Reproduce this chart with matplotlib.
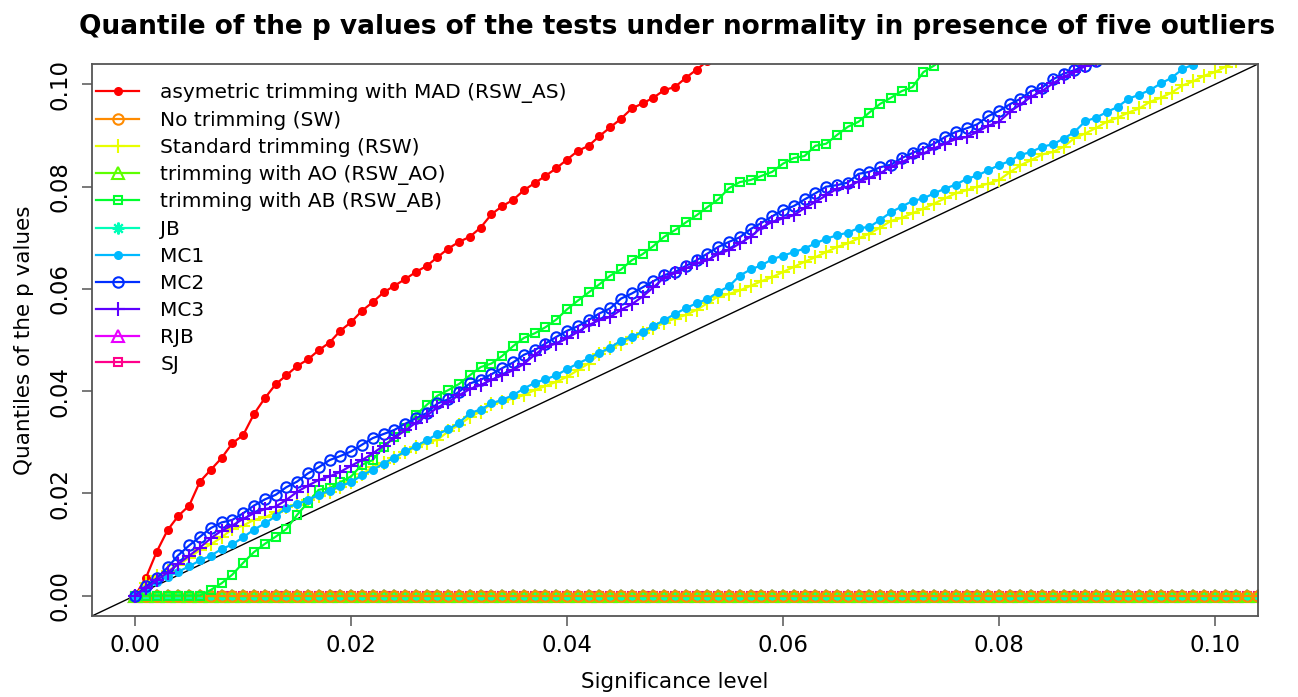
import numpy as np
import matplotlib
matplotlib.use("Agg")
import matplotlib.pyplot as plt

plt.rcParams['font.family'] = ['DejaVu Sans']

# significance levels (grid of the simulation)
sig_level = np.round(np.arange(105) * 0.001, 3)

rsw_as = [0.0000, 0.0035, 0.0086, 0.0128, 0.0156, 0.0176, 0.0223, 0.0246, 0.0269, 0.0298,
          0.0314, 0.0355, 0.0386, 0.0413, 0.0431, 0.0449, 0.0462, 0.0480, 0.0495, 0.0518,
          0.0535, 0.0557, 0.0574, 0.0593, 0.0606, 0.0619, 0.0633, 0.0645, 0.0662, 0.0679,
          0.0692, 0.0702, 0.0720, 0.0746, 0.0762, 0.0774, 0.0793, 0.0807, 0.0821, 0.0836,
          0.0853, 0.0870, 0.0880, 0.0899, 0.0916, 0.0933, 0.0953, 0.0963, 0.0974, 0.0989,
          0.0995, 0.1013, 0.1029, 0.1046, 0.1062, 0.1075]

sw = [0.0] * 105

rsw = [0.0000, 0.0024, 0.0038, 0.0048, 0.0060, 0.0074, 0.0089, 0.0100, 0.0114, 0.0130,
       0.0137, 0.0148, 0.0153, 0.0163, 0.0174, 0.0178, 0.0187, 0.0195, 0.0203, 0.0213,
       0.0223, 0.0238, 0.0251, 0.0260, 0.0269, 0.0280, 0.0290, 0.0299, 0.0305, 0.0321,
       0.0334, 0.0349, 0.0360, 0.0375, 0.0379, 0.0386, 0.0392, 0.0402, 0.0410, 0.0418,
       0.0428, 0.0441, 0.0454, 0.0473, 0.0484, 0.0493, 0.0505, 0.0513, 0.0523, 0.0534,
       0.0542, 0.0549, 0.0559, 0.0572, 0.0585, 0.0590, 0.0597, 0.0606, 0.0615, 0.0623,
       0.0633, 0.0643, 0.0653, 0.0662, 0.0672, 0.0682, 0.0689, 0.0699, 0.0708, 0.0720,
       0.0733, 0.0739, 0.0748, 0.0757, 0.0767, 0.0777, 0.0787, 0.0793, 0.0800, 0.0806,
       0.0813, 0.0828, 0.0842, 0.0852, 0.0863, 0.0868, 0.0878, 0.0895, 0.0904, 0.0915,
       0.0927, 0.0935, 0.0945, 0.0953, 0.0966, 0.0974, 0.0984, 0.0998, 0.1006, 0.1017,
       0.1024, 0.1035, 0.1046, 0.1058]

rsw_ao = [0.0] * 105

rsw_ab = [0.0000, 0.0000, 0.0000, 0.0000, 0.0000, 0.0000, 0.0000, 0.0011, 0.0024, 0.0041,
          0.0064, 0.0085, 0.0101, 0.0115, 0.0130, 0.0158, 0.0182, 0.0207, 0.0210, 0.0222,
          0.0233, 0.0256, 0.0265, 0.0291, 0.0310, 0.0327, 0.0353, 0.0373, 0.0391, 0.0402,
          0.0414, 0.0431, 0.0447, 0.0454, 0.0469, 0.0488, 0.0504, 0.0513, 0.0525, 0.0540,
          0.0560, 0.0577, 0.0593, 0.0609, 0.0626, 0.0638, 0.0656, 0.0668, 0.0684, 0.0702,
          0.0715, 0.0730, 0.0744, 0.0760, 0.0775, 0.0797, 0.0809, 0.0813, 0.0821, 0.0829,
          0.0845, 0.0856, 0.0860, 0.0880, 0.0884, 0.0901, 0.0917, 0.0927, 0.0945, 0.0962,
          0.0974, 0.0987, 0.0995, 0.1024, 0.1037, 0.1052, 0.1066]

jb = [0.0] * 105

mc1 = [0.0000, 0.0013, 0.0026, 0.0037, 0.0047, 0.0057, 0.0069, 0.0078, 0.0091, 0.0100,
       0.0114, 0.0129, 0.0141, 0.0155, 0.0172, 0.0179, 0.0187, 0.0197, 0.0205, 0.0214,
       0.0222, 0.0235, 0.0246, 0.0258, 0.0270, 0.0282, 0.0292, 0.0304, 0.0316, 0.0325,
       0.0338, 0.0357, 0.0364, 0.0376, 0.0383, 0.0392, 0.0405, 0.0416, 0.0423, 0.0431,
       0.0443, 0.0454, 0.0464, 0.0475, 0.0485, 0.0499, 0.0506, 0.0516, 0.0527, 0.0539,
       0.0551, 0.0562, 0.0572, 0.0580, 0.0594, 0.0605, 0.0626, 0.0638, 0.0646, 0.0658,
       0.0665, 0.0672, 0.0679, 0.0689, 0.0698, 0.0705, 0.0710, 0.0719, 0.0721, 0.0735,
       0.0750, 0.0761, 0.0772, 0.0777, 0.0787, 0.0796, 0.0804, 0.0815, 0.0822, 0.0832,
       0.0842, 0.0850, 0.0862, 0.0868, 0.0878, 0.0883, 0.0894, 0.0907, 0.0928, 0.0935,
       0.0946, 0.0956, 0.0972, 0.0980, 0.0989, 0.1002, 0.1013, 0.1030, 0.1039, 0.1050,
       0.1061]

mc2 = [0.0000, 0.0018, 0.0034, 0.0055, 0.0079, 0.0098, 0.0115, 0.0132, 0.0143, 0.0148,
       0.0161, 0.0176, 0.0188, 0.0197, 0.0212, 0.0223, 0.0239, 0.0251, 0.0265, 0.0273,
       0.0282, 0.0295, 0.0308, 0.0316, 0.0324, 0.0336, 0.0347, 0.0357, 0.0376, 0.0384,
       0.0399, 0.0415, 0.0422, 0.0433, 0.0445, 0.0456, 0.0471, 0.0480, 0.0493, 0.0506,
       0.0518, 0.0527, 0.0539, 0.0552, 0.0562, 0.0581, 0.0591, 0.0603, 0.0615, 0.0627,
       0.0633, 0.0645, 0.0656, 0.0669, 0.0682, 0.0692, 0.0701, 0.0717, 0.0729, 0.0742,
       0.0754, 0.0762, 0.0775, 0.0787, 0.0800, 0.0803, 0.0808, 0.0825, 0.0829, 0.0838,
       0.0843, 0.0856, 0.0866, 0.0875, 0.0884, 0.0897, 0.0907, 0.0914, 0.0922, 0.0938,
       0.0948, 0.0961, 0.0972, 0.0987, 0.0994, 0.1010, 0.1021, 0.1028, 0.1037, 0.1046,
       0.1058]

mc3 = [0.0000, 0.0014, 0.0030, 0.0045, 0.0062, 0.0078, 0.0094, 0.0112, 0.0127, 0.0137,
       0.0150, 0.0161, 0.0169, 0.0174, 0.0187, 0.0203, 0.0215, 0.0226, 0.0233, 0.0242,
       0.0254, 0.0265, 0.0278, 0.0293, 0.0308, 0.0323, 0.0338, 0.0352, 0.0368, 0.0379,
       0.0392, 0.0404, 0.0412, 0.0422, 0.0431, 0.0441, 0.0453, 0.0471, 0.0487, 0.0493,
       0.0503, 0.0516, 0.0529, 0.0539, 0.0545, 0.0559, 0.0570, 0.0585, 0.0603, 0.0622,
       0.0631, 0.0640, 0.0650, 0.0656, 0.0668, 0.0676, 0.0689, 0.0702, 0.0720, 0.0731,
       0.0738, 0.0744, 0.0758, 0.0770, 0.0783, 0.0796, 0.0800, 0.0810, 0.0817, 0.0826,
       0.0839, 0.0848, 0.0858, 0.0865, 0.0875, 0.0884, 0.0893, 0.0897, 0.0907, 0.0919,
       0.0927, 0.0946, 0.0961, 0.0976, 0.0987, 0.1002, 0.1015, 0.1024, 0.1036, 0.1048,
       0.1060]

rjb = [0.0] * 105
sj = [0.0] * 105

labels = ["asymetric trimming with MAD (RSW_AS)", "No trimming (SW)",
          "Standard trimming (RSW)", "trimming with AO (RSW_AO)",
          "trimming with AB (RSW_AB)", "JB", "MC1", "MC2", "MC3", "RJB", "SJ"]
series = [rsw_as, sw, rsw, rsw_ao, rsw_ab, jb, mc1, mc2, mc3, rjb, sj]
colors = ["#FF0000", "#FF8B00", "#E8FF00", "#5DFF00", "#00FF2E", "#00FFB9",
          "#00B9FF", "#002EFF", "#5D00FF", "#E800FF", "#FF008B"]
markers = ["o", "o", "+", "^", "s", (8, 2, 0), "o", "o", "+", "^", "s"]
filled = [True, False, False, False, False, False, True, False, False, False, False]
msizes = [5.0, 7.5, 9.5, 8.0, 5.5, 8.5, 5.0, 7.5, 9.5, 8.0, 5.5]

fig = plt.figure(figsize=(12.98, 6.97), dpi=100)
ax = fig.add_axes([92 / 1298, 81 / 697, 1166 / 1298, 552 / 697])

# drawing order: zero-valued series first, the orange one on top of them
order = [10, 9, 5, 3, 1, 0, 2, 4, 6, 7, 8]
handles = {}
for k in order:
    y = series[k]
    x = sig_level[:len(y)]
    kw = dict(color=colors[k], lw=1.6, marker=markers[k], markersize=msizes[k],
              markeredgewidth=1.5, markeredgecolor=colors[k])
    if filled[k]:
        kw['markerfacecolor'] = colors[k]
    else:
        kw['markerfacecolor'] = 'none'
    ln, = ax.plot(x, y, clip_on=True, **kw)
    handles[k] = ln

ax.axline((0, 0), slope=1, color='black', lw=1.0, zorder=0.5)

ax.set_xlim(-0.004, 0.104)
ax.set_ylim(-0.004, 0.104)
ticks = [0.00, 0.02, 0.04, 0.06, 0.08, 0.10]
ax.set_xticks(ticks)
ax.set_xticklabels([f"{t:.2f}" for t in ticks])
ax.set_yticks(ticks)
ax.set_yticklabels([f"{t:.2f}" for t in ticks], rotation=90, va='center')
ax.tick_params(axis='both', length=7, width=1.1, color='#555555', labelsize=16.5)
ax.tick_params(axis='x', pad=6)
ax.tick_params(axis='y', pad=8)
for s in ax.spines.values():
    s.set_color('#555555')
    s.set_linewidth(1.3)

ax.set_xlabel("Significance level", fontsize=15.5, labelpad=11)
ax.set_ylabel("Quantiles of the p values", fontsize=15.5, labelpad=10)
fig.suptitle("Quantile of the p values of the tests under normality in presence of five outliers",
             fontsize=19.0, fontweight='bold', x=677 / 1298, y=1 - 14 / 697, va='top')

leg = ax.legend([handles[k] for k in range(11)], labels, loc='upper left',
                bbox_to_anchor=(96 / 1298, 1 - 83 / 697), bbox_transform=fig.transFigure,
                frameon=False, fontsize=14.5, handlelength=2.15, handletextpad=1.05,
                labelspacing=0.39, borderpad=0, borderaxespad=0)

fig.savefig("out.png", dpi=100)
